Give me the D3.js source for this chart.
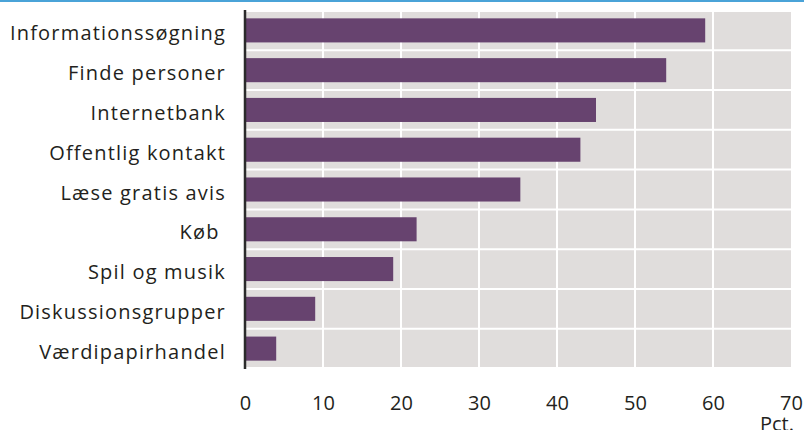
<!DOCTYPE html>
<html>
<head>
<meta charset="utf-8">
<script src="https://cdn.jsdelivr.net/npm/d3@7"></script>
<style>
  body { margin: 0; background: #fff; }
  svg { display: block; font-family: "Open Sans", sans-serif; }
</style>
</head>
<body>
<script>
// data (pct.)
var categories = ["Informationssøgning", "Finde personer", "Internetbank", "Offentlig kontakt",
                  "Læse gratis avis", "Køb ", "Spil og musik", "Diskussionsgrupper", "Værdipapirhandel"];
var values = [59, 54, 45, 43, 35.3, 22, 19, 9, 4];
var xTicks = [0, 10, 20, 30, 40, 50, 60, 70];
var unitLabel = "Pct.";

var width = 804, height = 430;
var svg = d3.select("body").append("svg").attr("width", width).attr("height", height);

var x = d3.scaleLinear().domain([0, 70]).range([245, 791]);
var rows = d3.scaleBand().domain(categories).range([10.5, 368.5]);
var y = d3.scaleBand().domain(categories).range([10.5, 368.5]).paddingInner(0.395).paddingOuter(0.1975);

// blue rule on top
svg.append("rect").attr("x", 0).attr("y", 0).attr("width", width).attr("height", 2).attr("fill", "#4aa3d8");

// grey plot background with white grid
svg.append("rect")
   .attr("x", x(0)).attr("y", 12)
   .attr("width", x(70) - x(0)).attr("height", 355)
   .attr("fill", "#e0dddc");

svg.selectAll(".vgrid")
   .data(xTicks.slice(1, -1))
   .enter().append("line")
   .attr("x1", function (d) { return x(d); })
   .attr("x2", function (d) { return x(d); })
   .attr("y1", 12).attr("y2", 367)
   .attr("stroke", "#fff").attr("stroke-width", 2);

svg.selectAll(".hgrid")
   .data(categories.slice(1))
   .enter().append("line")
   .attr("x1", x(0)).attr("x2", x(70))
   .attr("y1", function (d) { return rows(d); })
   .attr("y2", function (d) { return rows(d); })
   .attr("stroke", "#fff").attr("stroke-width", 2);

// bars
svg.selectAll(".bar")
   .data(values)
   .enter().append("rect")
   .attr("x", x(0))
   .attr("y", function (d, i) { return y(categories[i]); })
   .attr("width", function (d) { return x(d) - x(0); })
   .attr("height", y.bandwidth())
   .attr("fill", "#67436f");

// category labels
svg.selectAll(".lab")
   .data(categories)
   .enter().append("text")
   .attr("x", 226)
   .attr("y", function (d) { return y(d) + y.bandwidth() / 2 + 10; })
   .attr("text-anchor", "end")
   .style("white-space", "pre")
   .style("font-size", "20px")
   .style("letter-spacing", "1.2px")
   .attr("fill", "#231f20")
   .text(function (d) { return d; });

// vertical axis line
svg.append("line")
   .attr("x1", x(0)).attr("x2", x(0))
   .attr("y1", 10).attr("y2", 369)
   .attr("stroke", "#2b2b2b").attr("stroke-width", 2.5);

// x axis labels
var xAxis = d3.axisBottom(x).tickValues(xTicks).tickSize(0).tickPadding(0);
var gx = svg.append("g").attr("transform", "translate(0,395.5)").call(xAxis);
gx.select(".domain").remove();
gx.selectAll("text")
  .attr("dy", "0.71em")
  .style("font-family", "'Open Sans', sans-serif")
  .style("font-size", "20px")
  .attr("fill", "#231f20");

svg.append("text")
   .attr("x", 794).attr("y", 431)
   .attr("text-anchor", "end")
   .style("font-size", "20px")
   .attr("fill", "#231f20")
   .text(unitLabel);
</script>
</body>
</html>
